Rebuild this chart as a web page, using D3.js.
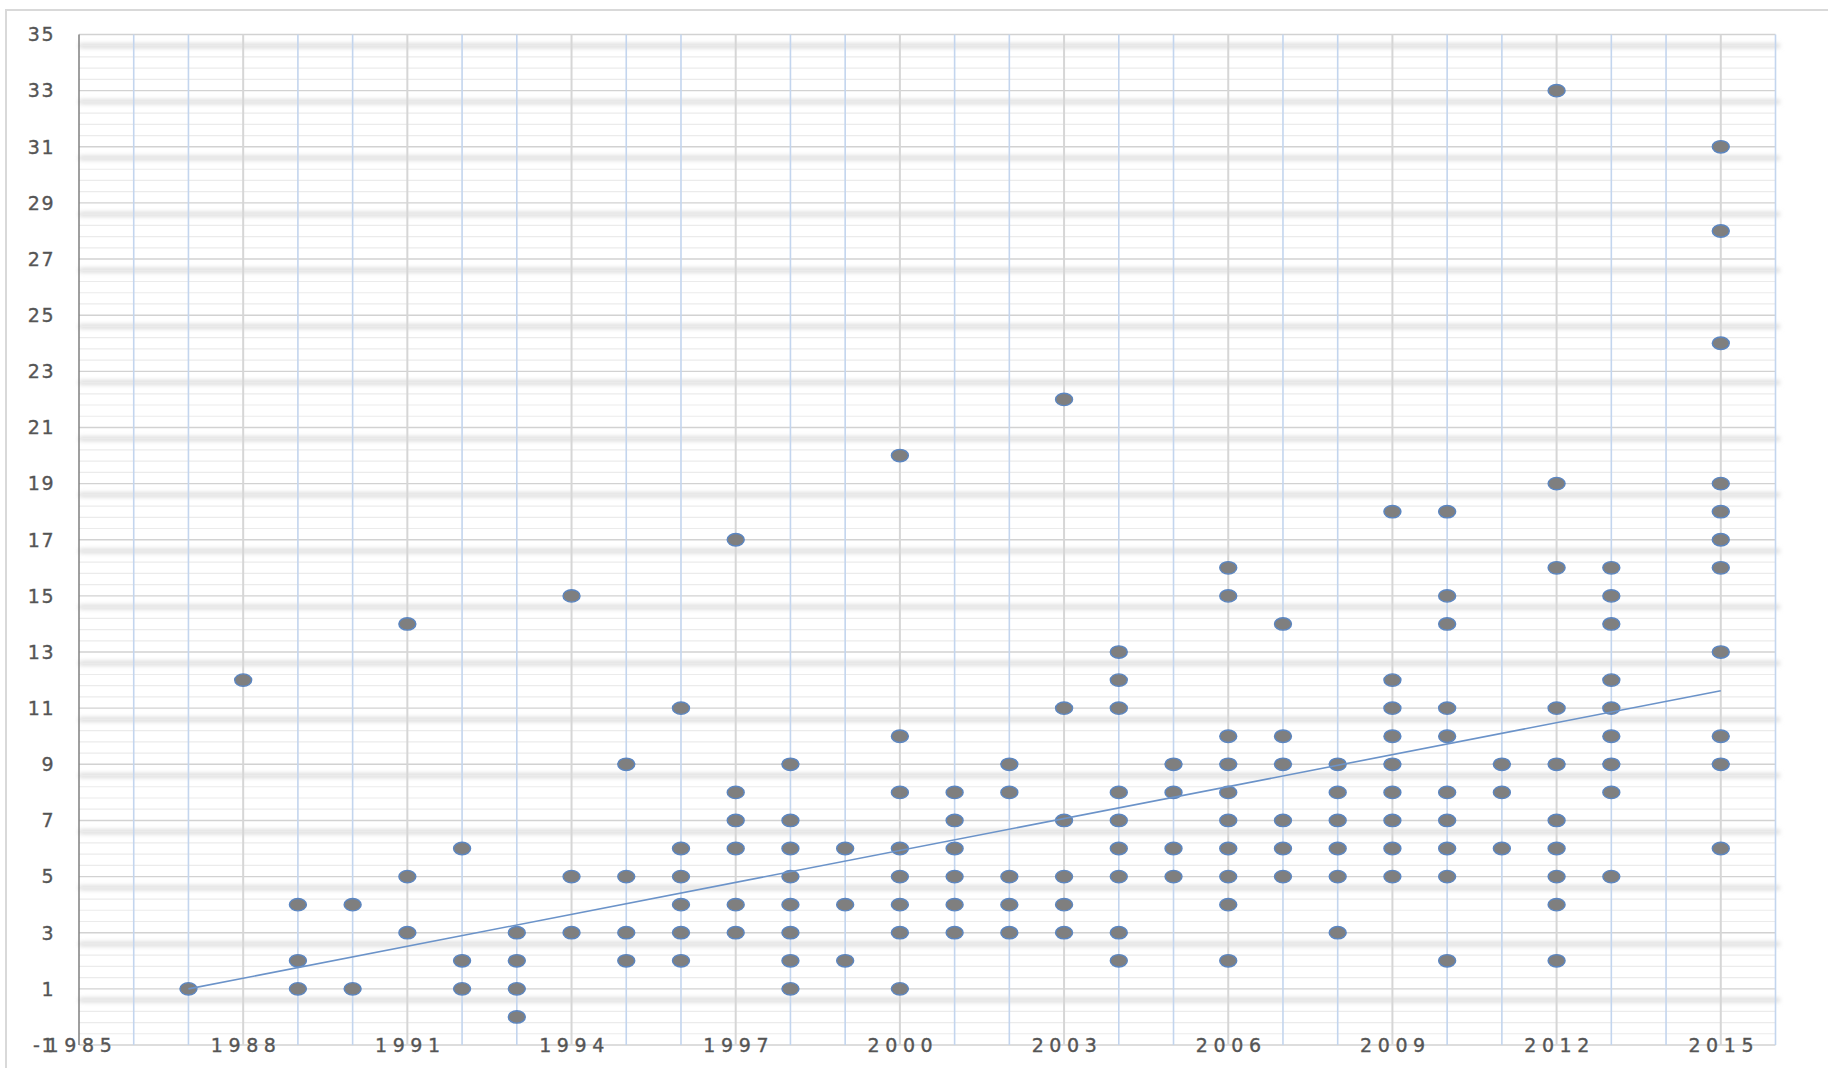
<!DOCTYPE html>
<html>
<head>
<meta charset="utf-8">
<script src="https://cdn.jsdelivr.net/npm/d3@7"></script>
<style>
  body { margin: 0; background: #fff; }
  svg { display: block; }
</style>
</head>
<body>
<svg id="viz_scatter"></svg>
<script>
// years that have observations, and the values seen in each year
var years = [1987, 1988, 1989, 1990, 1991, 1992, 1993, 1994, 1995, 1996,
             1997, 1998, 1999, 2000, 2001, 2002, 2003, 2004, 2005, 2006,
             2007, 2008, 2009, 2010, 2011, 2012, 2013, 2015];
var values = [
    [1],
    [12],
    [1, 2, 4],
    [1, 4],
    [3, 5, 14],
    [1, 2, 6],
    [0, 1, 2, 3],
    [3, 5, 15],
    [2, 3, 5, 9],
    [2, 3, 4, 5, 6, 11],
    [3, 4, 6, 7, 8, 17],
    [1, 2, 3, 4, 5, 6, 7, 9],
    [2, 4, 6],
    [1, 3, 4, 5, 6, 8, 10, 20],
    [3, 4, 5, 6, 7, 8],
    [3, 4, 5, 8, 9],
    [3, 4, 5, 7, 11, 22],
    [2, 3, 5, 6, 7, 8, 11, 12, 13],
    [5, 6, 8, 9],
    [2, 4, 5, 6, 7, 8, 9, 10, 15, 16],
    [5, 6, 7, 9, 10, 14],
    [3, 5, 6, 7, 8, 9],
    [5, 6, 7, 8, 9, 10, 11, 12, 18],
    [2, 5, 6, 7, 8, 10, 11, 14, 15, 18],
    [6, 8, 9],
    [2, 4, 5, 6, 7, 9, 11, 16, 19, 33],
    [5, 8, 9, 10, 11, 12, 14, 15, 16],
    [6, 9, 10, 13, 16, 17, 18, 19, 24, 28, 31]
];

// linear trend line end points
var trendYears = [1987, 2015];
var trendValues = [1.0, 11.62];

// axis labels
var xTicks = [1985, 1988, 1991, 1994, 1997, 2000, 2003, 2006, 2009, 2012, 2015];
var yTicks = [-1, 1, 3, 5, 7, 9, 11, 13, 15, 17, 19, 21, 23, 25, 27, 29, 31, 33, 35];

var width = 1828;
var height = 1068;
var margin = ({top: 34.5, right: 52.5, bottom: 23, left: 79});

var points = [];
years.forEach(function(yr, i) {
    values[i].forEach(function(v) {
        points.push({year: yr, value: v});
    });
});

var x = d3.scaleLinear()
    .domain([1985, 2016])
    .range([margin.left, width - margin.right]);

var y = d3.scaleLinear()
    .domain([-1, 35])
    .range([height - margin.bottom, margin.top]);

var svg = d3.select("#viz_scatter")
    .attr("width", width)
    .attr("height", height);

var defs = svg.append("defs");
defs.append("filter")
    .attr("id", "soft")
    .attr("x", "-5%").attr("y", "-400%")
    .attr("width", "110%").attr("height", "900%")
    .append("feGaussianBlur")
    .attr("stdDeviation", "2.5 2.2");

// outer frame
svg.append("path")
    .attr("d", "M6,1068V10H1828")
    .attr("fill", "none")
    .attr("stroke", "#d9d9d9")
    .attr("stroke-width", 2);

var grid = svg.append("g");

// blurred bands
grid.append("g")
    .attr("filter", "url(#soft)")
    .selectAll("line")
    .data(d3.range(0.6, 35, 2))
    .enter().append("line")
    .attr("x1", x(1985)).attr("x2", x(2016) + 4)
    .attr("y1", d => y(d)).attr("y2", d => y(d))
    .attr("stroke", "#d9d9d9")
    .attr("stroke-width", 4.5);

// minor horizontal lines every 0.4
grid.append("g")
    .selectAll("line")
    .data(d3.range(0, 90).map(i => -1 + i * 0.4).filter(v => Math.abs((v + 1) / 2 - Math.round((v + 1) / 2)) > 0.01))
    .enter().append("line")
    .attr("x1", x(1985)).attr("x2", x(2016))
    .attr("y1", d => y(d)).attr("y2", d => y(d))
    .attr("stroke", "#ebebeb")
    .attr("stroke-width", 1.2);

// major horizontal lines
grid.append("g")
    .selectAll("line")
    .data(yTicks)
    .enter().append("line")
    .attr("x1", x(1985)).attr("x2", x(2016))
    .attr("y1", d => y(d)).attr("y2", d => y(d))
    .attr("stroke", "#d2d2d2")
    .attr("stroke-width", 1.4);

// vertical lines, one per year
grid.append("g")
    .selectAll("line")
    .data(d3.range(1986, 2017).filter(yr => xTicks.indexOf(yr) < 0))
    .enter().append("line")
    .attr("x1", d => x(d)).attr("x2", d => x(d))
    .attr("y1", y(35)).attr("y2", y(-1))
    .attr("stroke", "#c3d5ee")
    .attr("stroke-width", 1.6);

grid.append("g")
    .selectAll("line")
    .data(xTicks.filter(yr => yr > 1985))
    .enter().append("line")
    .attr("x1", d => x(d)).attr("x2", d => x(d))
    .attr("y1", y(35)).attr("y2", y(-1))
    .attr("stroke", "#d6d6d6")
    .attr("stroke-width", 2);

// left axis line
svg.append("line")
    .attr("x1", x(1985)).attr("x2", x(1985))
    .attr("y1", y(35)).attr("y2", y(-1))
    .attr("stroke", "#7f7f7f")
    .attr("stroke-width", 1.5);

// shadow under the category labels
svg.append("line")
    .attr("filter", "url(#soft)")
    .attr("x1", x(1985) - 4).attr("x2", x(2016))
    .attr("y1", y(-1) + 16).attr("y2", y(-1) + 16)
    .attr("stroke", "#dcdcdc")
    .attr("stroke-width", 5);

// points
svg.append("g")
    .selectAll("ellipse")
    .data(points)
    .enter().append("ellipse")
    .attr("cx", d => x(d.year))
    .attr("cy", d => y(d.value))
    .attr("rx", 8.5)
    .attr("ry", 6.2)
    .attr("fill", "#7f7f7f")
    .attr("stroke", "#5b86c2")
    .attr("stroke-width", 1.4);

// trend line
svg.append("line")
    .attr("x1", x(trendYears[0])).attr("y1", y(trendValues[0]))
    .attr("x2", x(trendYears[1])).attr("y2", y(trendValues[1]))
    .attr("stroke", "#6b93c9")
    .attr("stroke-width", 1.6);

// y labels
svg.append("g")
    .attr("fill", "#555555")
    .attr("stroke", "#555555")
    .attr("stroke-width", 0.35)
    .attr("text-anchor", "end")
    .style("font", "19px 'DejaVu Sans', sans-serif")
    .style("letter-spacing", "1.5px")
    .selectAll("text")
    .data(yTicks)
    .enter().append("text")
    .attr("x", 55)
    .attr("y", d => y(d))
    .attr("dy", "0.36em")
    .text(d => d);

// x labels
svg.append("g")
    .attr("fill", "#555555")
    .attr("stroke", "#555555")
    .attr("stroke-width", 0.35)
    .attr("text-anchor", "middle")
    .style("font", "19px 'DejaVu Sans', sans-serif")
    .style("letter-spacing", "5.6px")
    .selectAll("text")
    .data(xTicks)
    .enter().append("text")
    .attr("x", d => x(d) + 3)
    .attr("y", y(-1))
    .attr("dy", "0.36em")
    .text(d => d);
</script>
</body>
</html>
